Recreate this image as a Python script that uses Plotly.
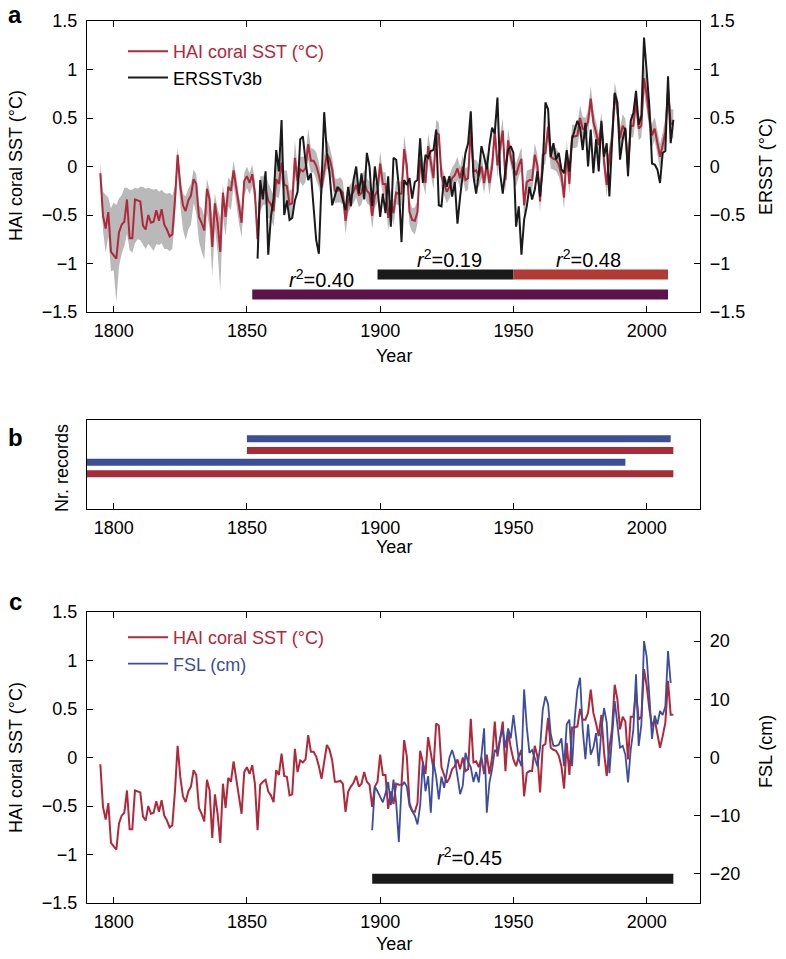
import plotly.graph_objects as go

# ---------------- data ----------------
years_hai = list(range(1795, 2011))
hai_sst = [
    -0.07, -0.51, -0.64, -0.47, -0.88, -0.92, -0.95, -0.68, -0.60, -0.57,
    -0.34, -0.74, -0.74, -0.34, -0.35, -0.36, -0.61, -0.65, -0.50, -0.58,
    -0.57, -0.45, -0.56, -0.44, -0.60, -0.65, -0.72, -0.70, -0.35, 0.12,
    -0.20, -0.40, -0.46, -0.35, -0.30, -0.13, -0.18, -0.52, -0.58, -0.66,
    -0.23, -0.34, -0.83, -0.38, -0.58, -0.88, -0.27, -0.52, -0.21, -0.25,
    -0.04, -0.20, -0.40, -0.58, -0.15, -0.10, -0.17, -0.08, -0.27, -0.75,
    -0.28, -0.25, -0.23, -0.35, -0.39, -0.46, -0.13, -0.18, 0.04, -0.19,
    -0.20, -0.39, -0.38, 0.09, -0.15, -0.03, -0.05, -0.02, 0.23, 0.06,
    0.06, 0.01, -0.09, -0.22, -0.02, 0.13, 0.08, -0.03, -0.25, -0.25,
    -0.24, -0.27, -0.56, -0.35, -0.30, -0.26, -0.19, -0.30, -0.27, -0.15,
    -0.25, -0.28, -0.51, -0.30, -0.25, 0.03, -0.18, -0.18, -0.53, -0.35,
    -0.48, -0.27, -0.28, -0.28, 0.18, 0.01, -0.47, -0.55, -0.56, -0.47,
    0.07, -0.04, -0.17, 0.21, 0.05, -0.12, 0.35, 0.33, -0.10, -0.19,
    -0.26, -0.21, -0.12, -0.09, -0.02, -0.12, 0.00, -0.14, -0.12, 0.40,
    -0.05, -0.04, -0.10, 0.00, -0.17, 0.03, -0.17, 0.00, 0.37, 0.01,
    0.20, 0.37, -0.14, 0.27, 0.10, -0.02, -0.09, 0.01, 0.08, -0.40,
    -0.16, -0.14, -0.14, 0.12, 0.01, -0.36, 0.12, 0.14, 0.41, 0.10,
    0.08, 0.07, 0.02, -0.09, -0.32, 0.15, -0.18, 0.31, 0.31, 0.32,
    0.50, 0.39, 0.39, 0.46, 0.70, 0.46, 0.35, 0.22, 0.44, 0.05,
    -0.19, 0.10, 0.29, 0.75, 0.60, 0.29, 0.42, 0.37, -0.02, 0.42,
    0.42, 0.68, 0.39, 0.42, 0.91, 0.74, 0.50, 0.32, 0.39, 0.25,
    0.10, 0.22, 0.36, 0.79, 0.44, 0.44,
]

# uncertainty envelope offsets (above / below HAI curve), 1795-1853
band_up_early = [
    0.10, 0.25, 0.35, 0.15, 0.45, 0.55, 0.55, 0.35, 0.30, 0.35,
    0.12, 0.50, 0.50, 0.12, 0.12, 0.15, 0.40, 0.42, 0.28, 0.35,
    0.33, 0.22, 0.30, 0.20, 0.33, 0.37, 0.45, 0.40, 0.15, 0.08,
    0.10, 0.12, 0.15, 0.12, 0.12, 0.10, 0.10, 0.12, 0.15, 0.15,
    0.10, 0.10, 0.30, 0.10, 0.15, 0.35, 0.08, 0.12, 0.10, 0.10,
    0.10, 0.10, 0.10, 0.15, 0.08, 0.10, 0.10, 0.10, 0.12,
]
band_dn_early = [
    0.10, 0.15, 0.25, 0.25, 0.20, 0.15, 0.45, 0.35, 0.30, 0.25,
    0.35, 0.12, 0.15, 0.45, 0.40, 0.40, 0.20, 0.20, 0.30, 0.25,
    0.30, 0.35, 0.25, 0.35, 0.25, 0.20, 0.15, 0.15, 0.20, 0.15,
    0.20, 0.25, 0.30, 0.30, 0.30, 0.25, 0.30, 0.25, 0.30, 0.30,
    0.25, 0.30, 0.30, 0.25, 0.30, 0.40, 0.25, 0.20, 0.20, 0.20,
    0.15, 0.18, 0.18, 0.15, 0.15, 0.12, 0.12, 0.12, 0.12,
]
# symmetric half-width, 1854-2010
band_hw_late = [
    0.15, 0.18, 0.15, 0.16, 0.18, 0.15, 0.16, 0.18, 0.15, 0.17,
    0.15, 0.16, 0.14, 0.15, 0.18, 0.14, 0.13, 0.15, 0.14, 0.16,
    0.13, 0.12, 0.14, 0.13, 0.12, 0.14, 0.15, 0.13, 0.12, 0.13,
    0.12, 0.13, 0.12, 0.14, 0.13, 0.12, 0.12, 0.13, 0.12, 0.12,
    0.12, 0.13, 0.12, 0.14, 0.12, 0.12, 0.13, 0.12, 0.12, 0.13,
    0.12, 0.13, 0.12, 0.12, 0.13, 0.14, 0.12, 0.13, 0.12, 0.14,
    0.12, 0.12, 0.13, 0.12, 0.13, 0.12, 0.12, 0.13, 0.12, 0.12,
    0.11, 0.12, 0.12, 0.11, 0.12, 0.12, 0.11, 0.12, 0.12, 0.12,
    0.13, 0.12, 0.11, 0.12, 0.12, 0.11, 0.12, 0.12, 0.11, 0.13,
    0.12, 0.12, 0.13, 0.12, 0.12, 0.11, 0.12, 0.12, 0.11, 0.12,
    0.13, 0.12, 0.11, 0.12, 0.12, 0.11, 0.12, 0.12, 0.11, 0.13,
    0.12, 0.11, 0.12, 0.12, 0.11, 0.12, 0.12, 0.11, 0.12, 0.12,
    0.12, 0.13, 0.12, 0.11, 0.12, 0.13, 0.12, 0.11, 0.12, 0.12,
    0.12, 0.12, 0.11, 0.12, 0.12, 0.12, 0.11, 0.12, 0.12, 0.12,
    0.12, 0.12, 0.13, 0.12, 0.12, 0.15, 0.13, 0.12, 0.12, 0.12,
    0.12, 0.13, 0.13, 0.14, 0.15, 0.15, 0.15,
]

years_ersst = list(range(1854, 2011))
ersst = [
    -0.95, -0.14, -0.34, -0.05, -0.91, -0.52, -0.33, 0.17, -0.05, 0.48,
    -0.50, -0.35, -0.55, -0.53, -0.35, -0.26, 0.28, 0.31, 0.05, -0.14,
    -0.07, -0.38, -0.76, -0.90, -0.15, 0.56, 0.14, -0.07, -0.40, -0.31,
    -0.21, -0.24, -0.34, -0.45, -0.21, -0.41, -0.14, 0.00, -0.28, -0.07,
    -0.34, 0.14, 0.00, -0.41, 0.00, -0.21, -0.52, -0.28, -0.48, -0.10,
    -0.62, 0.09, 0.07, -0.21, -0.78, -0.14, -0.19, -0.12, -0.33, -0.16,
    -0.14, 0.29, -0.17, 0.12, 0.09, 0.16, 0.17, 0.38, -0.40, -0.41,
    -0.10, -0.21, -0.10, -0.31, -0.16, -0.59, -0.31, -0.09, 0.14, 0.24,
    0.57, -0.10, -0.28, -0.07, 0.21, 0.10, -0.03, 0.22, 0.40, 0.34,
    0.71, -0.07, -0.28, -0.03, 0.17, 0.21, 0.14, -0.62, -0.41, -0.91,
    -0.55, -0.41, -0.21, -0.34, -0.24, -0.05, -0.31, -0.02, 0.66, 0.59,
    0.10, 0.24, 0.07, 0.14, -0.03, -0.07, 0.17, -0.05, 0.28, 0.38,
    0.47, 0.40, 0.17, 0.45, 0.00, 0.38, -0.07, 0.28, -0.05, 0.47,
    0.10, 0.24, -0.31, 0.25, 0.76, 0.66, 0.07, 0.28, 0.40, -0.10,
    0.47, 0.55, 0.78, 0.43, 0.52, 1.33, 0.93, 0.62, 0.03, 0.02,
    -0.03, -0.17, 0.14, 0.16, 0.93, 0.24, 0.48,
]

years_fsl = list(range(1897, 2010))
fsl_cm = [
    -12.5, -5.0, -5.8, -6.7, -7.7, -6.2, -4.2, -8.2, -3.8, -7.8,
    -14.5, -5.0, -4.2, -5.0, -8.3, -9.2, -10.0, -11.5, -8.3, -0.8,
    -5.8, -3.2, -9.5, -0.8, -3.3, -7.2, -3.3, -5.2, -2.5, 0.0,
    1.3, -0.3, -3.2, -6.3, -4.8, 0.8, -0.8, -1.7, -4.2, -2.5,
    -4.3, 0.8, 5.0, -9.5, -4.3, -2.0, 1.3, 0.8, 3.3, 4.8,
    1.7, 5.0, 3.3, 7.3, 3.2, -0.3, -1.5, 11.7, 5.3, 0.8,
    1.3, 0.0, -1.5, 1.7, 8.2, 10.5, 9.2, 4.0, 2.0, 2.0,
    2.2, 3.3, -1.5, 5.7, 6.5, -1.5, 6.7, 11.7, 13.7, 4.8,
    -0.3, 5.7, 0.5, 1.7, 4.2, -1.5, 4.8, 8.5, 6.0, -2.7,
    3.7, 9.7, 5.7, 1.7, 2.0, 0.5, -4.3, 1.3, 4.8, 14.3,
    2.0, 5.7, 20.0, 17.3, 10.5, 3.2, 7.2, 5.7, 8.0, 7.3,
    8.8, 18.3, 12.8,
]

# correlation periods (panel a) and panel c
r2_start = [1852, 1899, 1950]
r2_end = [2008, 1950, 2008]
r2_text = ["0.40", "0.19", "0.48"]
fsl_r2_start, fsl_r2_end, fsl_r2_text = 1897, 2010, "0.45"

# panel b: record coverage (top to bottom)
rec_start = [1850, 1850, 1780, 1780]
rec_end = [2009, 2010, 1992, 2010]
rec_rank = [4, 3, 2, 1]
rec_kind = ["blue", "red", "blue", "red"]

x_ticks = [1800, 1850, 1900, 1950, 2000]

# ---------------- styling ----------------
W, H = 786, 959
FONT = "Liberation Sans, Arial, Helvetica, sans-serif"
RED = "#b0283a"
BLACK = "#1a1a1a"
BLUE = "#3c4d9e"
GRAY = "#b9b9b9"
PURPLE = "#5c1349"
BAR_RED = "#b23a35"
REC_COL = {"blue": "#3a4f94", "red": "#a42d38"}


def pxx(p):
    return p / W


def py(p):
    return 1 - p / H


XDOM = [pxx(87), pxx(700)]
DOM_A = [py(312), py(21)]
DOM_B = [py(509), py(420)]
DOM_C = [py(903), py(612)]

band_up = band_up_early + band_hw_late
band_dn = band_dn_early + band_hw_late
upper = [v + u for v, u in zip(hai_sst, band_up)]
lower = [v - d for v, d in zip(hai_sst, band_dn)]

fig = go.Figure()

# ---- panel a ----
fig.add_trace(go.Scatter(
    x=years_hai + years_hai[::-1], y=upper + lower[::-1], fill="toself",
    fillcolor=GRAY, line=dict(width=0), mode="lines", hoverinfo="skip",
    showlegend=False, xaxis="x", yaxis="y"))
fig.add_trace(go.Scatter(
    x=years_hai, y=hai_sst, mode="lines", line=dict(color=RED, width=2),
    name=f"<span style='color:{RED}'>HAI coral SST (°C)</span>",
    legend="legend", xaxis="x", yaxis="y"))
bar_cols = [PURPLE, BLACK, BAR_RED]
bar_lvls = [-1.32, -1.113, -1.113]
for s, e, c, lv in zip(r2_start, r2_end, bar_cols, bar_lvls):
    fig.add_trace(go.Scatter(x=[s, e], y=[lv, lv], mode="lines",
                             line=dict(color=c, width=10), showlegend=False,
                             hoverinfo="skip", xaxis="x", yaxis="y"))
fig.add_trace(go.Scatter(
    x=years_ersst, y=ersst, mode="lines", line=dict(color=BLACK, width=2),
    name="ERSSTv3b", legend="legend", xaxis="x", yaxis="y2"))

# ---- panel b ----
for s, e, r, k in zip(rec_start, rec_end, rec_rank, rec_kind):
    fig.add_trace(go.Scatter(x=[s, e], y=[r, r], mode="lines",
                             line=dict(color=REC_COL[k], width=7),
                             showlegend=False, hoverinfo="skip",
                             xaxis="x2", yaxis="y3"))

# ---- panel c ----
fig.add_trace(go.Scatter(
    x=years_hai, y=hai_sst, mode="lines", line=dict(color=RED, width=2),
    name=f"<span style='color:{RED}'>HAI coral SST (°C)</span>",
    legend="legend2", xaxis="x3", yaxis="y4"))
fig.add_trace(go.Scatter(
    x=[fsl_r2_start, fsl_r2_end], y=[-1.25, -1.25], mode="lines",
    line=dict(color=BLACK, width=10), showlegend=False, hoverinfo="skip",
    xaxis="x3", yaxis="y4"))
fig.add_trace(go.Scatter(
    x=years_fsl, y=fsl_cm, mode="lines", line=dict(color=BLUE, width=1.8),
    name=f"<span style='color:{BLUE}'>FSL (cm)</span>",
    legend="legend2", xaxis="x3", yaxis="y5"))

# ---------------- axes ----------------
base = dict(showline=True, linecolor="black", linewidth=1.4, ticks="inside",
            ticklen=6, tickwidth=1.3, tickcolor="black", showgrid=False,
            zeroline=False, automargin=False,
            tickfont=dict(size=18, color="black", family=FONT))

xcommon = dict(base, range=[1790, 2020], tickvals=x_ticks, ticklabelstandoff=2)
yvals = [-1.5, -1, -0.5, 0, 0.5, 1, 1.5]

fig.update_layout(
    xaxis=dict(xcommon, domain=XDOM, anchor="y", mirror="ticks"),
    yaxis=dict(base, domain=DOM_A, anchor="x", range=[-1.5, 1.5],
               tickvals=yvals, ticklabelstandoff=5),
    yaxis2=dict(base, overlaying="y", side="right", anchor="x",
                range=[-1.5, 1.5], tickvals=yvals, ticklabelstandoff=5),
    xaxis2=dict(xcommon, domain=XDOM, anchor="y3", mirror=True),
    yaxis3=dict(base, domain=DOM_B, anchor="x2", range=[-2, 5.6],
                ticks="", showticklabels=False, mirror=True),
    xaxis3=dict(xcommon, domain=XDOM, anchor="y4", mirror="ticks"),
    yaxis4=dict(base, domain=DOM_C, anchor="x3", range=[-1.5, 1.5],
                tickvals=yvals, ticklabelstandoff=5),
    yaxis5=dict(base, overlaying="y4", side="right", anchor="x3",
                range=[-25, 25], tickvals=[-20, -10, 0, 10, 20],
                ticklabelstandoff=5),
)

legend_common = dict(xanchor="left", yanchor="top", bgcolor="rgba(0,0,0,0)",
                     font=dict(size=18, family=FONT, color="black"),
                     itemwidth=40, tracegroupgap=0)
fig.update_layout(
    legend=dict(legend_common, x=pxx(123), y=py(33)),
    legend2=dict(legend_common, x=pxx(123), y=py(619)),
)

# ---------------- annotations ----------------
ann = []


def text(x, y, s, size=18, angle=0, xref="paper", yref="paper"):
    ann.append(dict(x=x, y=y, xref=xref, yref=yref, text=s, showarrow=False,
                    textangle=angle, xanchor="center", yanchor="middle",
                    font=dict(size=size, family=FONT, color="black")))


# panel letters
text(pxx(15), py(15), "<b>a</b>", size=24)
text(pxx(15), py(437), "<b>b</b>", size=24)
text(pxx(15), py(601), "<b>c</b>", size=24)

# axis titles
text(pxx(16), py(166), "HAI coral SST (°C)", angle=-90)
text(pxx(766), py(167), "ERSST (°C)", angle=-90)
text(pxx(393.5), py(356), "Year")
text(pxx(62), py(468), "Nr. records", angle=-90)
text(pxx(393.5), py(547), "Year")
text(pxx(16), py(758), "HAI coral SST (°C)", angle=-90)
text(pxx(766), py(752), "FSL (cm)", angle=-90)
text(pxx(393.5), py(944), "Year")

# r^2 labels
r2_pos = [(1878, -1.15), (1926, -0.95), (1978, -0.95)]
for (xx, yy), t in zip(r2_pos, r2_text):
    text(xx, yy, f"<i>r</i><sup>2</sup>={t}", size=20, xref="x", yref="y")
text(1933.6, -1.02, f"<i>r</i><sup>2</sup>={fsl_r2_text}", size=20,
     xref="x3", yref="y4")

fig.update_layout(
    annotations=ann,
    width=W, height=H, margin=dict(l=0, r=0, t=0, b=0, autoexpand=False),
    paper_bgcolor="white", plot_bgcolor="white",
    font=dict(family=FONT, size=18, color="black"),
)

# remove the default 8px page margin so the figure fills the window exactly
fig.write_html("out.html", config={"displayModeBar": False},
               post_script="document.body.style.margin='0px';")
